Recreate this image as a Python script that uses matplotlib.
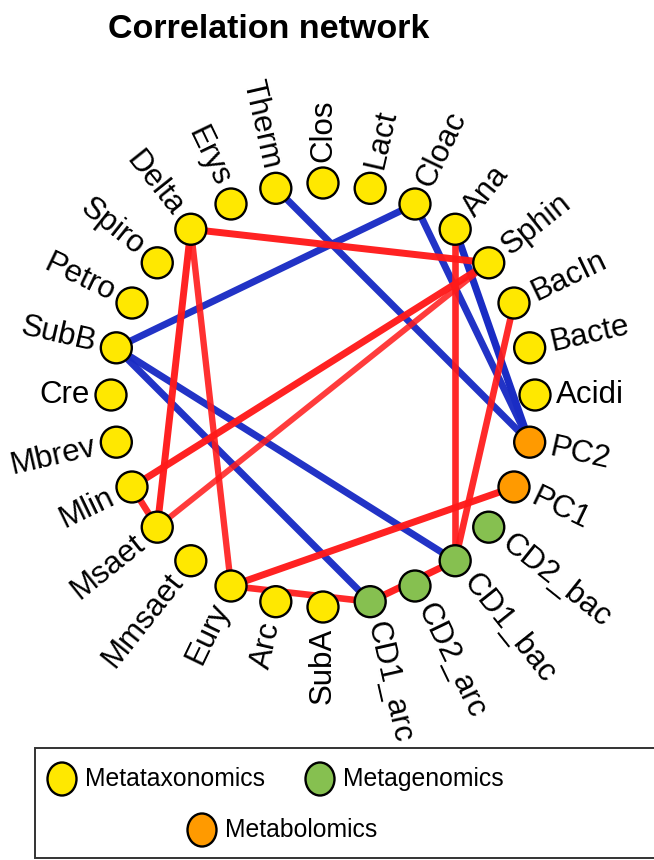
import numpy as np
import matplotlib.pyplot as plt
from matplotlib.patches import Circle, Ellipse, Rectangle

plt.rcParams['font.family'] = ['Liberation Sans', 'DejaVu Sans']

# nodes, clockwise from the top of the ring
nodes = ['Clos', 'Lact', 'Cloac', 'Ana', 'Sphin', 'BacIn', 'Bacte', 'Acidi',
         'PC2', 'PC1', 'CD2_bac', 'CD1_bac', 'CD2_arc', 'CD1_arc', 'SubA',
         'Arc', 'Eury', 'Mmsaet', 'Msaet', 'Mlin', 'Mbrev', 'Cre', 'SubB',
         'Petro', 'Spiro', 'Delta', 'Erys', 'Therm']
groups = {'PC1': 'Metabolomics', 'PC2': 'Metabolomics',
          'CD1_arc': 'Metagenomics', 'CD2_arc': 'Metagenomics',
          'CD1_bac': 'Metagenomics', 'CD2_bac': 'Metagenomics'}
group_names = ['Metataxonomics', 'Metagenomics', 'Metabolomics']
group_colors = {'Metataxonomics': '#ffe800',
                'Metagenomics': '#86c050',
                'Metabolomics': '#ff9a00'}

# correlations (r) between node pairs
edge_src = ['Therm', 'Cloac', 'Cloac', 'Ana', 'SubB', 'SubB',
            'Delta', 'Delta', 'Delta', 'Ana', 'BacIn', 'Sphin', 'Sphin',
            'Mlin', 'PC1', 'Eury', 'CD1_arc']
edge_dst = ['PC2', 'SubB', 'PC2', 'PC2', 'CD1_arc', 'CD1_bac',
            'Sphin', 'Msaet', 'Eury', 'CD1_bac', 'CD1_bac', 'Mlin', 'Msaet',
            'Msaet', 'Eury', 'CD1_arc', 'CD1_bac']
edge_r = [-0.92, -0.92, -0.92, -0.95, -0.92, -0.92,
          0.92, 0.92, 0.85, 0.88, 0.88, 0.92, 0.80,
          0.88, 0.92, 0.88, 0.92]

W, H = 654, 860
cx, cy, R = 323, 395, 212
node_r = 15.5

fig = plt.figure(figsize=(W / 100, H / 100), dpi=100)
ax = fig.add_axes([0, 0, 1, 1])
ax.set_xlim(0, W)
ax.set_ylim(H, 0)
ax.set_aspect('equal')
ax.axis('off')

n = len(nodes)
theta = 90 - np.arange(n) * 360 / n
px = cx + R * np.cos(np.radians(theta))
py = cy - R * np.sin(np.radians(theta))
pos = {name: (px[i], py[i]) for i, name in enumerate(nodes)}

# edges: red positive, blue negative, stronger ones wider
for a, b, r in zip(edge_src, edge_dst, edge_r):
    color = '#ff1a1a' if r > 0 else '#1a2cc4'
    strength = (abs(r) - 0.7) / 0.25
    alpha = 0.75 + 0.25 * strength
    lw = 3.6 + 1.6 * strength
    ax.plot([pos[a][0], pos[b][0]], [pos[a][1], pos[b][1]],
            color=color, lw=lw, alpha=alpha, solid_capstyle='butt', zorder=1)

# nodes and labels
for i, name in enumerate(nodes):
    x, y = pos[name]
    c = group_colors[groups.get(name, 'Metataxonomics')]
    ax.add_patch(Circle((x, y), node_r, facecolor=c, edgecolor='black',
                        lw=1.7, zorder=3))
    t = theta[i]
    lx = cx + (R + 21) * np.cos(np.radians(t))
    ly = cy - (R + 21) * np.sin(np.radians(t))
    if -90 + 1e-6 < t <= 90 + 1e-6:
        rot, ha = t, 'left'
    else:
        rot, ha = t - 180, 'right'
    ax.text(lx, ly, name, rotation=rot, rotation_mode='anchor',
            ha=ha, va='center', fontsize=22.5, zorder=4)

ax.text(269, 30, 'Correlation network', ha='center', va='center',
        fontsize=24.5, fontweight='bold')

# legend box
ax.add_patch(Rectangle((35, 748), 640, 110, facecolor='white',
                       edgecolor='#333333', lw=1.4, zorder=2))
legend_xy = [(62, 779), (320, 779), (202, 830)]
for name, (x, y) in zip(group_names, legend_xy):
    ax.add_patch(Ellipse((x, y), 29, 33, facecolor=group_colors[name],
                         edgecolor='black', lw=1.7, zorder=3))
    ax.text(x + 23, y, name, ha='left', va='center', fontsize=17.8, zorder=4)

fig.savefig('out.png', dpi=100)
